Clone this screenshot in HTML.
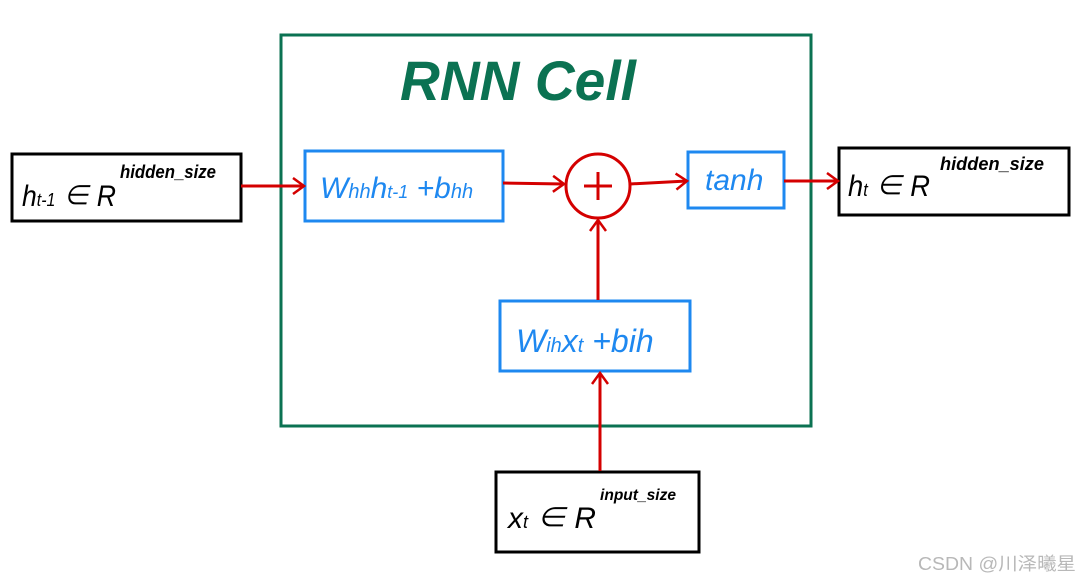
<!DOCTYPE html>
<html><head><meta charset="utf-8"><style>
html,body{margin:0;padding:0;background:#fff;}
svg{display:block;}
text{font-family:"Liberation Sans","Noto Sans CJK SC",sans-serif;}
</style></head><body>
<svg width="1080" height="580" viewBox="0 0 1080 580" xmlns="http://www.w3.org/2000/svg">
<defs>
<marker id="ah" markerWidth="16" markerHeight="18" refX="13" refY="9" orient="auto" markerUnits="userSpaceOnUse">
<path d="M2,1 L13,9 L2,17" fill="none" stroke="#d40000" stroke-width="2.5"/>
</marker>
</defs>
<rect x="281" y="35" width="530" height="391" fill="none" stroke="#0b7252" stroke-width="3"/>
<text x="400" y="100" font-size="56" font-weight="bold" font-style="italic" fill="#0b7252" textLength="236" lengthAdjust="spacingAndGlyphs">RNN  Cell</text>

<rect x="12" y="154" width="229" height="67" fill="none" stroke="#000" stroke-width="3"/>
<text x="22" y="206" font-size="30" font-style="italic" fill="#000" textLength="94" lengthAdjust="spacingAndGlyphs">h<tspan font-size="18">t-1</tspan> ∈ R</text>
<text x="120" y="178" font-size="18" font-style="italic" font-weight="bold" fill="#000" textLength="96" lengthAdjust="spacingAndGlyphs">hidden_size</text>

<rect x="305" y="151" width="198" height="70" fill="none" stroke="#1e88f0" stroke-width="3"/>
<text x="320" y="198" font-size="30" font-style="italic" fill="#1e88f0">W<tspan font-size="20">hh</tspan>h<tspan font-size="18">t-1</tspan> +b<tspan font-size="20">hh</tspan></text>

<circle cx="598" cy="186" r="32" fill="none" stroke="#d40000" stroke-width="3"/>
<line x1="598" y1="172" x2="598" y2="200" stroke="#d40000" stroke-width="3"/>
<line x1="584" y1="186" x2="612" y2="186" stroke="#d40000" stroke-width="3"/>

<rect x="688" y="152" width="96" height="56" fill="none" stroke="#1e88f0" stroke-width="3"/>
<text x="705" y="190" font-size="30" font-style="italic" fill="#1e88f0">tanh</text>

<rect x="839" y="148" width="230" height="67" fill="none" stroke="#000" stroke-width="3"/>
<text x="848" y="196" font-size="30" font-style="italic" fill="#000" textLength="82" lengthAdjust="spacingAndGlyphs">h<tspan font-size="18">t</tspan>  ∈ R</text>
<text x="940" y="170" font-size="18" font-style="italic" font-weight="bold" fill="#000" textLength="104" lengthAdjust="spacingAndGlyphs">hidden_size</text>

<rect x="500" y="301" width="190" height="70" fill="none" stroke="#1e88f0" stroke-width="3"/>
<text x="516" y="352" font-size="32" font-style="italic" fill="#1e88f0">W<tspan font-size="20">ih</tspan>x<tspan font-size="20">t</tspan> +bih</text>

<rect x="496" y="472" width="203" height="80" fill="none" stroke="#000" stroke-width="3"/>
<text x="508" y="528" font-size="30" font-style="italic" fill="#000" textLength="88" lengthAdjust="spacingAndGlyphs">x<tspan font-size="18">t</tspan> ∈ R</text>
<text x="600" y="500" font-size="16" font-style="italic" font-weight="bold" fill="#000" textLength="76" lengthAdjust="spacingAndGlyphs">input_size</text>

<g stroke="#d40000" stroke-width="3" fill="none" marker-end="url(#ah)">
<line x1="241" y1="186" x2="304" y2="186"/>
<line x1="503" y1="183" x2="564" y2="184"/>
<line x1="630" y1="184" x2="687" y2="181"/>
<line x1="784" y1="181" x2="838" y2="181"/>
<line x1="598" y1="300" x2="598" y2="220"/>
<line x1="600" y1="471" x2="600" y2="373"/>
</g>

<text x="918" y="570" font-size="18" fill="#b8b8b8" textLength="158" lengthAdjust="spacingAndGlyphs">CSDN @川泽曦星</text>
</svg>
</body></html>
